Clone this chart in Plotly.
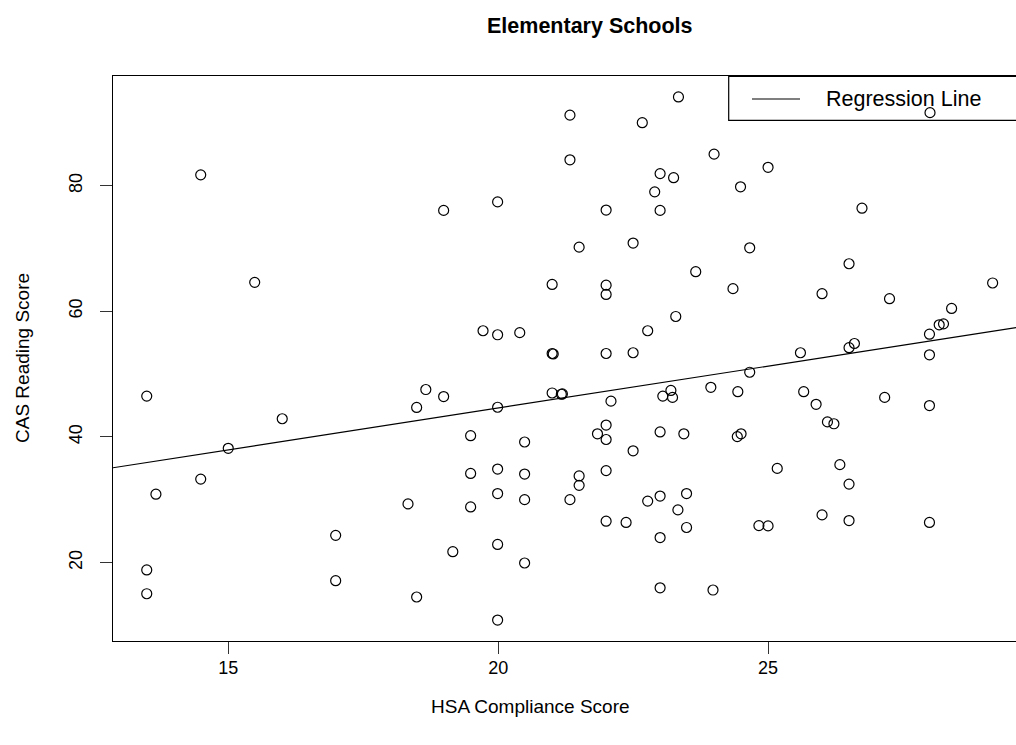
import numpy as np
import plotly.graph_objects as go

# ---- data ----
hsa = [14.49, 23.34, 21.33, 22.67, 24.0, 21.33, 23.0, 23.25, 22.9, 19.99,
       18.99, 22.0, 23.0, 21.5, 22.5, 28.0, 25.0, 24.49, 26.74, 24.66,
       26.5, 15.49, 13.49, 16.0, 15.0, 18.49, 23.66, 21.0, 22.0, 22.0,
       23.29, 19.72, 19.99, 20.4, 22.77, 21.0, 21.02, 22.0, 22.5, 18.66,
       18.99, 19.99, 21.0, 21.17, 21.19, 22.09, 23.2, 23.05, 23.23, 23.94,
       19.49, 20.49, 22.0, 21.84, 22.0, 23.0, 23.44, 22.5, 24.35, 26.0,
       27.25, 29.16, 28.4, 28.17, 28.25, 27.99, 26.6, 26.5, 25.6, 27.99,
       24.66, 24.44, 25.66, 25.89, 27.16, 27.99, 26.1, 26.22, 24.5, 24.43,
       14.49, 13.66, 18.33, 16.99, 13.49, 16.99, 13.49, 18.49, 19.49, 19.99,
       20.49, 21.5, 21.5, 22.0, 19.49, 19.99, 20.49, 21.33, 22.0, 22.37,
       22.77, 23.0, 23.49, 23.33, 23.49, 23.0, 19.16, 19.99, 20.49, 19.99,
       23.0, 23.98, 25.17, 26.33, 26.5, 26.0, 26.5, 24.83, 25.0, 27.99]
cas = [81.7, 94.1, 91.2, 90.0, 85.0, 84.1, 81.9, 81.25, 79.0, 77.4,
       76.05, 76.1, 76.05, 70.2, 70.85, 91.6, 82.9, 79.8, 76.4, 70.1,
       67.56, 64.6, 46.5, 42.9, 38.2, 44.7, 66.3, 64.27, 64.15, 62.68,
       59.17, 56.9, 56.26, 56.6, 56.9, 53.28, 53.2, 53.28, 53.4, 47.55,
       46.43, 44.73, 47.0, 46.8, 46.85, 45.7, 47.4, 46.5, 46.3, 47.9,
       40.2, 39.2, 41.9, 40.5, 39.6, 40.8, 40.5, 37.8, 63.6, 62.8,
       62.0, 64.5, 60.45, 57.85, 58.0, 56.35, 54.87, 54.2, 53.4, 53.07,
       50.3, 47.2, 47.2, 45.2, 46.3, 45.0, 42.4, 42.1, 40.5, 40.06,
       33.3, 30.9, 29.35, 24.35, 18.84, 17.13, 15.06, 14.54, 34.2, 34.9,
       34.1, 33.8, 32.3, 34.65, 28.87, 31.0, 30.03, 30.03, 26.6, 26.4,
       29.8, 30.6, 31.0, 28.4, 25.6, 24.0, 21.75, 22.9, 19.95, 10.87,
       16.0, 15.65, 35.0, 35.6, 32.5, 27.6, 26.7, 25.9, 25.85, 26.4]

reg_intercept = 17.95
reg_slope = 1.333

x_ticks = [15, 20, 25]
y_ticks = [20, 40, 60, 80]

title_text = "Elementary Schools"
x_label = "HSA Compliance Score"
y_label = "CAS Reading Score"
legend_label = "Regression Line"

# ---- layout geometry (pixels); body margin removed by post_script ----
W, H = 1016, 745
L, R, T = 113, 0, 76
B = H - 641
plot_w = W - L - R
plot_h = H - T - B
x_range = [12.865, 29.593]
y_range = [7.54, 97.43]
FONT = "Liberation Sans, Arial, Helvetica, sans-serif"


def px_x(px):
    return (px - L) / plot_w


def px_y(py):
    return (H - B - py) / plot_h


fig = go.Figure()

fig.add_trace(go.Scatter(
    x=hsa, y=cas, mode="markers",
    marker=dict(symbol="circle-open", size=10, color="black",
                line=dict(color="black", width=1.2)),
    showlegend=False, hoverinfo="x+y",
))

xl = np.array(x_range)
fig.add_trace(go.Scatter(
    x=xl, y=reg_intercept + reg_slope * xl, mode="lines",
    line=dict(color="black", width=1.2), showlegend=False,
    hoverinfo="skip",
))

axis_common = dict(
    showgrid=False, zeroline=False, showline=True, linecolor="black",
    linewidth=1.2, ticks="outside", ticklen=12, tickwidth=1.2,
    tickcolor="#333333", tickfont=dict(family=FONT, size=18, color="black"),
)

fig.update_xaxes(range=x_range, tickvals=x_ticks, mirror=True,
                 ticklabelstandoff=-2, **axis_common)
fig.update_yaxes(range=y_range, tickvals=y_ticks, mirror=False,
                 tickangle=-90, ticklabelstandoff=11, **axis_common)

annotations = [
    dict(text="<b>" + title_text + "</b>", x=px_x(589.5), y=px_y(26),
         font=dict(family=FONT, size=21.5, color="black")),
    dict(text=x_label, x=px_x(530), y=px_y(706),
         font=dict(family=FONT, size=19, color="black")),
    dict(text=y_label, x=px_x(22), y=px_y(358), textangle=-90,
         font=dict(family=FONT, size=19, color="black")),
    dict(text=legend_label, x=px_x(824), y=px_y(99), xanchor="left",
         font=dict(family=FONT, size=21.5, color="black")),
]
for a in annotations:
    a.setdefault("xanchor", "center")
    a.update(xref="paper", yref="paper", yanchor="middle", showarrow=False)

shapes = [
    dict(type="rect", xref="paper", yref="paper",
         x0=px_x(728.7), x1=px_x(1040), y0=px_y(120.3), y1=px_y(76.5),
         line=dict(color="black", width=1.2), fillcolor="rgba(0,0,0,0)",
         layer="above"),
    dict(type="line", xref="paper", yref="paper",
         x0=px_x(752), x1=px_x(800), y0=px_y(99), y1=px_y(99),
         line=dict(color="black", width=1.2), layer="above"),
]

fig.update_layout(
    width=W, height=H,
    margin=dict(l=L, r=R, t=T, b=B, pad=0),
    paper_bgcolor="white", plot_bgcolor="white",
    annotations=annotations, shapes=shapes,
    font=dict(family=FONT, color="black"),
)

fig.write_html(
    "out.html",
    config={"displayModeBar": False},
    post_script="document.body.style.margin='0px';"
                "document.body.style.overflow='hidden';",
)
